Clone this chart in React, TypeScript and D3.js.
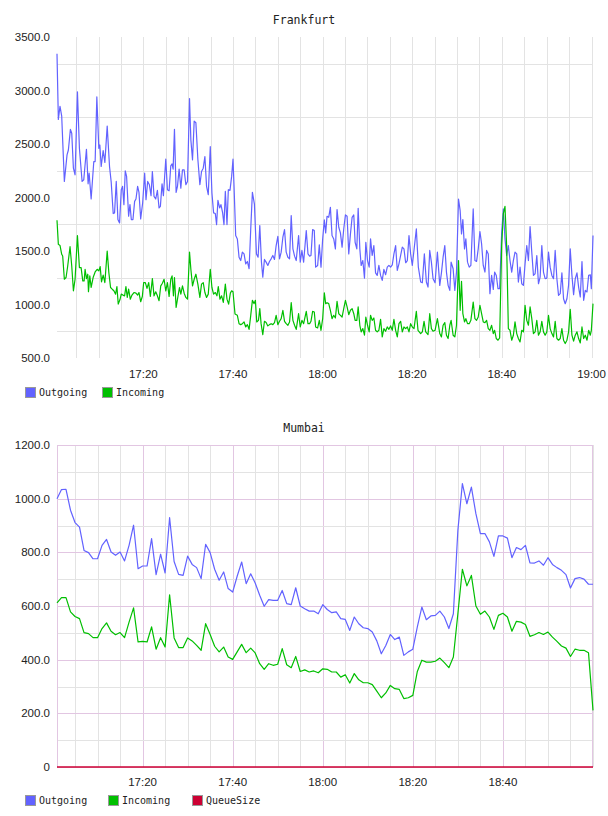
import { useEffect, useRef } from 'react';
import * as d3 from 'd3';

type Point = [number, number]; // [minutes after 17:00, value]

// Frankfurt: irregular ~20s samples
const frankfurtOutgoing: Point[] = [
  [0.73, 3343], [1.03, 2730], [1.4, 2853], [1.78, 2760], [2.37, 2150], [2.97, 2398], [3.27, 2444], [3.72, 2637],
  [4.02, 2600], [4.39, 2274], [4.76, 2212], [5.29, 2987], [5.73, 2460], [6.33, 2150], [6.7, 2166], [7.3, 2451],
  [7.67, 2128], [7.9, 2227], [8.35, 1986], [8.94, 2336], [9.24, 2336], [9.62, 2940], [10.06, 2460], [10.29, 2491],
  [10.59, 2290], [11.03, 2438], [11.41, 2327], [11.93, 2668], [12.45, 2290], [12.83, 2141], [13.27, 1850], [13.57, 1856],
  [13.95, 2150], [14.32, 1794], [14.69, 1763], [15.07, 2073], [15.36, 2104], [15.66, 1933], [15.96, 2249], [16.26, 2197],
  [16.71, 1825], [17.01, 1933], [17.31, 1794], [17.68, 1794], [18.05, 1964], [18.35, 1986], [18.72, 2104], [19.02, 2048],
  [19.4, 1800], [19.84, 1949], [20.29, 2227], [20.59, 1980], [20.96, 2150], [21.34, 2119], [21.71, 2017], [22.01, 2243],
  [22.38, 2011], [22.76, 1986], [23.13, 2067], [23.5, 1902], [23.8, 1918], [24.17, 2128], [24.47, 2017], [25.0, 2358],
  [25.37, 2073], [25.74, 2063], [26.12, 2296], [26.41, 2314], [26.64, 2265], [26.94, 2637], [27.31, 2048], [27.61, 2104],
  [27.98, 2265], [28.36, 2088], [28.73, 2259], [29.1, 2259], [29.48, 2119], [29.85, 2150], [30.3, 2925], [30.6, 2537],
  [30.97, 2352], [31.34, 2714], [31.72, 2699], [32.16, 2358], [32.61, 2119], [32.98, 2243], [33.36, 2274], [33.73, 2383],
  [34.1, 2104], [34.48, 2026], [34.93, 2475], [35.3, 2042], [35.67, 1856], [36.05, 1850], [36.34, 1747], [36.64, 1974],
  [37.02, 1902], [37.31, 1933], [37.69, 1856], [37.99, 1747], [38.29, 2057], [38.66, 1747], [38.96, 2073], [39.33, 2067],
  [39.7, 2197], [40.0, 2358], [40.23, 2110], [40.6, 1644], [40.97, 1613], [41.35, 1442], [41.72, 1411], [42.09, 1489],
  [42.47, 1473], [42.84, 1380], [43.21, 1402], [43.59, 1334], [43.96, 1706], [44.33, 2048], [44.78, 1939], [45.23, 1473],
  [45.6, 1442], [45.98, 1737], [46.35, 1396], [46.65, 1256], [47.02, 1421], [47.39, 1396], [47.77, 1365], [48.14, 1402],
  [48.51, 1427], [48.89, 1458], [49.26, 1421], [49.63, 1551], [50.01, 1638], [50.38, 1427], [50.75, 1489], [51.13, 1629],
  [51.5, 1700], [51.87, 1489], [52.25, 1442], [52.62, 1427], [52.99, 1831], [53.37, 1520], [53.74, 1452], [54.11, 1411],
  [54.64, 1644], [55.01, 1396], [55.38, 1505], [55.76, 1396], [56.35, 1691], [56.73, 1473], [57.1, 1452], [57.4, 1458],
  [57.77, 1700], [58.14, 1691], [58.44, 1349], [58.89, 1365], [59.26, 1557], [59.64, 1349], [60.01, 1613], [60.38, 1790],
  [60.68, 1669], [60.98, 1824], [61.36, 1815], [61.73, 1908], [62.1, 1644], [62.48, 1613], [62.85, 1520], [63.22, 1887],
  [63.6, 1722], [63.97, 1669], [64.34, 1536], [64.71, 1706], [65.09, 1837], [65.46, 1824], [65.83, 1473], [66.21, 1660],
  [66.58, 1815], [66.95, 1837], [67.25, 1582], [67.63, 1520], [67.93, 1899], [68.3, 1520], [68.6, 1365], [68.97, 1411],
  [69.34, 1247], [69.64, 1582], [70.02, 1411], [70.39, 1349], [70.69, 1613], [71.06, 1458], [71.43, 1551], [71.81, 1296],
  [72.18, 1272], [72.55, 1365], [72.93, 1272], [73.3, 1225], [73.67, 1328], [74.05, 1278], [74.42, 1349], [74.79, 1365],
  [75.17, 1349], [75.54, 1371], [75.91, 1473], [76.29, 1551], [76.66, 1318], [77.03, 1380], [77.41, 1458], [77.78, 1536],
  [78.15, 1520], [78.53, 1390], [78.9, 1411], [79.27, 1644], [79.64, 1473], [80.01, 1365], [80.91, 1706], [81.36, 1349],
  [81.88, 1210], [82.25, 1203], [82.7, 1473], [83.15, 1210], [83.52, 1163], [83.9, 1505], [84.27, 1396], [84.64, 1241],
  [85.09, 1203], [85.61, 1489], [86.14, 1179], [86.51, 1296], [86.88, 1442], [87.26, 1551], [87.63, 1303], [88.0, 1179],
  [88.38, 1132], [88.67, 1396], [89.12, 1334], [89.5, 1132], [89.87, 1303], [90.32, 1986], [90.69, 1877], [90.99, 1660],
  [91.29, 1793], [91.66, 1520], [91.96, 1613], [92.33, 1396], [92.71, 1349], [93.08, 1365], [93.6, 1893], [93.98, 1411],
  [94.35, 1402], [94.72, 1520], [95.1, 1682], [95.47, 1567], [95.84, 1365], [96.22, 1303], [96.59, 1505], [96.96, 1473],
  [97.33, 1101], [97.71, 1272], [98.08, 1141], [98.38, 1303], [98.75, 1272], [99.13, 1148], [99.5, 1148], [99.95, 1669],
  [100.32, 1893], [100.69, 1613], [101.07, 1458], [101.44, 1551], [101.81, 1411], [102.19, 1303], [102.56, 1411], [102.93, 1489],
  [103.31, 1473], [103.68, 1210], [104.05, 1349], [104.43, 1194], [104.8, 1179], [105.17, 1380], [105.55, 1551], [105.92, 1411],
  [106.29, 1728], [106.67, 1489], [107.04, 1272], [107.41, 1287], [107.79, 1458], [108.16, 1194], [108.53, 1256], [108.91, 1551],
  [109.28, 1303], [109.65, 1241], [110.03, 1247], [110.4, 1489], [110.77, 1349], [111.15, 1272], [111.52, 1241], [111.89, 1505],
  [112.27, 1241], [112.64, 1085], [113.01, 1101], [113.39, 1296], [113.76, 1054], [114.13, 1007], [114.51, 1054], [114.88, 1179],
  [115.25, 1520], [115.63, 1272], [116.0, 1092], [116.37, 1241], [116.75, 1296], [117.12, 1163], [117.49, 1070], [117.87, 1402],
  [118.24, 1039], [118.61, 1132], [118.99, 1117], [119.36, 1272], [119.73, 1278], [119.96, 1148], [120.33, 1644],
];

const frankfurtIncoming: Point[] = [
  [0.73, 1788], [1.03, 1562], [1.4, 1552], [1.78, 1469], [2.0, 1453], [2.37, 1236], [2.75, 1252], [3.12, 1360],
  [3.64, 1540], [4.02, 1360], [4.39, 1128], [4.76, 1236], [5.29, 1645], [5.73, 1345], [6.11, 1345], [6.48, 1221],
  [6.78, 1221], [7.0, 1329], [7.3, 1242], [7.6, 1283], [7.75, 1119], [8.05, 1267], [8.35, 1159], [8.79, 1252],
  [9.24, 1304], [9.69, 1329], [10.06, 1314], [10.36, 1354], [10.66, 1212], [11.03, 1274], [11.41, 1205], [11.93, 1500],
  [12.3, 1298], [12.68, 1159], [13.05, 1143], [13.42, 1128], [13.8, 1097], [14.1, 1168], [14.39, 1004], [14.77, 1044],
  [15.07, 1097], [15.44, 1088], [15.81, 1081], [16.11, 1168], [16.41, 1066], [16.71, 1143], [17.08, 1050], [17.46, 1088],
  [17.9, 1112], [18.35, 1106], [18.72, 1088], [19.02, 1112], [19.4, 1026], [19.77, 1075], [20.07, 1205], [20.44, 1205],
  [20.81, 1150], [21.19, 1205], [21.56, 1075], [22.01, 1242], [22.38, 1081], [22.76, 1119], [23.13, 1081], [23.5, 1035],
  [23.88, 1174], [24.25, 1199], [24.62, 1236], [25.0, 1128], [25.37, 1205], [25.74, 1075], [26.12, 1236], [26.41, 1267],
  [26.71, 1081], [26.94, 1252], [27.31, 973], [27.68, 1066], [28.06, 1159], [28.36, 1097], [28.73, 1174], [29.1, 1106],
  [29.48, 1066], [29.85, 1050], [30.3, 1490], [30.6, 1329], [30.97, 1174], [31.34, 1236], [31.72, 1283], [32.16, 1190],
  [32.61, 1066], [32.98, 1190], [33.36, 1205], [33.73, 1112], [34.1, 1066], [34.48, 1097], [34.93, 1329], [35.3, 1159],
  [35.67, 1097], [36.05, 1112], [36.42, 1081], [36.72, 1168], [37.09, 1050], [37.46, 1081], [37.84, 1019], [38.29, 1190],
  [38.66, 1050], [39.03, 1004], [39.41, 1106], [39.7, 1128], [40.0, 1119], [40.45, 911], [40.97, 899], [41.35, 821],
  [41.72, 812], [42.09, 821], [42.47, 837], [42.84, 790], [43.21, 812], [43.59, 768], [43.96, 899], [44.33, 1039],
  [44.71, 1008], [45.0, 1039], [45.3, 837], [45.68, 852], [45.98, 961], [46.27, 821], [46.65, 719], [47.02, 843],
  [47.39, 831], [47.77, 800], [48.14, 812], [48.51, 821], [48.89, 812], [49.26, 831], [49.63, 899], [50.01, 812],
  [50.38, 843], [50.75, 868], [51.13, 946], [51.5, 843], [51.87, 821], [52.25, 806], [52.62, 837], [52.99, 1017],
  [53.37, 852], [53.74, 806], [54.11, 768], [54.64, 914], [55.01, 790], [55.38, 852], [55.76, 821], [56.35, 936],
  [56.73, 821], [57.1, 821], [57.4, 843], [57.77, 936], [58.14, 930], [58.44, 790], [58.89, 781], [59.26, 852],
  [59.64, 759], [60.01, 868], [60.38, 1110], [60.68, 1008], [60.98, 1017], [61.36, 1008], [61.73, 946], [62.1, 868],
  [62.48, 899], [62.85, 874], [63.22, 1029], [63.6, 914], [63.97, 899], [64.34, 883], [64.71, 961], [65.09, 1039],
  [65.46, 977], [65.83, 905], [66.21, 946], [66.58, 961], [66.95, 914], [67.25, 852], [67.63, 852], [67.93, 977],
  [68.3, 806], [68.6, 744], [68.97, 775], [69.34, 713], [69.64, 883], [70.02, 806], [70.39, 744], [70.69, 899],
  [71.06, 852], [71.43, 874], [71.81, 759], [72.18, 744], [72.55, 759], [72.93, 862], [73.3, 697], [73.67, 775],
  [74.05, 750], [74.42, 790], [74.79, 768], [75.17, 800], [75.54, 759], [75.91, 862], [76.29, 759], [76.66, 697],
  [77.03, 821], [77.41, 843], [77.78, 744], [78.15, 790], [78.53, 775], [78.9, 790], [79.27, 744], [79.64, 821],
  [80.01, 790], [80.39, 775], [80.91, 936], [81.28, 759], [81.88, 728], [82.25, 744], [82.63, 843], [83.0, 744],
  [83.52, 719], [83.9, 914], [84.27, 775], [84.64, 750], [85.09, 759], [85.61, 868], [86.14, 728], [86.51, 697],
  [86.88, 806], [87.26, 831], [87.63, 713], [88.0, 682], [88.38, 806], [88.67, 852], [89.12, 713], [89.5, 697],
  [89.87, 806], [90.32, 1411], [90.69, 946], [90.99, 1216], [91.29, 914], [91.66, 837], [91.96, 868], [92.33, 821],
  [92.71, 821], [93.08, 852], [93.6, 1023], [93.98, 868], [94.35, 852], [94.72, 883], [95.1, 992], [95.47, 914],
  [95.84, 837], [96.22, 831], [96.59, 852], [96.96, 775], [97.33, 759], [97.71, 806], [98.08, 728], [98.38, 759],
  [98.75, 682], [99.13, 666], [99.5, 688], [99.95, 1551], [100.32, 1846], [100.69, 1918], [101.07, 1536], [101.44, 775],
  [101.81, 759], [102.19, 666], [102.56, 713], [102.93, 837], [103.31, 728], [103.68, 682], [104.05, 650], [104.43, 759],
  [104.8, 744], [105.17, 992], [105.55, 852], [105.92, 806], [106.29, 977], [106.67, 868], [107.04, 728], [107.41, 744],
  [107.79, 852], [108.16, 713], [108.53, 744], [108.91, 843], [109.28, 744], [109.65, 713], [110.03, 744], [110.4, 899],
  [110.77, 775], [111.15, 728], [111.52, 697], [111.89, 843], [112.27, 682], [112.64, 666], [113.01, 682], [113.39, 775],
  [113.76, 666], [114.13, 635], [114.51, 666], [114.88, 744], [115.25, 955], [115.63, 713], [116.0, 657], [116.37, 713],
  [116.75, 744], [117.12, 682], [117.49, 641], [117.87, 790], [118.24, 682], [118.61, 713], [118.99, 666], [119.36, 759],
  [119.73, 713], [119.96, 759], [120.33, 1008],
];

// Mumbai: one sample per minute, 17:01 .. 19:00
const mumbaiFirstMinute = 1;
const mumbaiOutgoing = [
  1000, 1034, 1035, 957, 911, 894, 807, 799, 776, 776,
  826, 848, 801, 789, 801, 768, 826, 901, 739, 749,
  749, 851, 717, 793, 723, 929, 766, 718, 714, 786,
  755, 743, 702, 830, 799, 737, 696, 727, 665, 652,
  711, 764, 683, 720, 686, 640, 599, 624, 621, 621,
  658, 609, 605, 668, 600, 590, 581, 581, 571, 605,
  587, 575, 578, 553, 550, 509, 559, 534, 519, 516,
  503, 470, 422, 453, 494, 475, 484, 416, 429, 439,
  522, 596, 549, 563, 565, 581, 559, 516, 571, 882,
  1056, 981, 1043, 944, 870, 870, 839, 785, 861, 861,
  853, 780, 818, 810, 826, 761, 760, 768, 752, 780,
  755, 743, 733, 717, 667, 702, 706, 700, 681, 681,
];
const mumbaiIncoming = [
  612, 631, 631, 578, 561, 553, 501, 497, 482, 482,
  516, 537, 506, 493, 501, 482, 540, 593, 466, 468,
  466, 522, 439, 482, 447, 642, 481, 445, 445, 481,
  470, 453, 435, 534, 494, 450, 429, 447, 410, 401,
  429, 457, 426, 443, 425, 385, 364, 385, 379, 383,
  441, 381, 370, 412, 356, 362, 354, 358, 351, 366,
  364, 354, 354, 335, 344, 313, 348, 325, 314, 314,
  307, 283, 258, 276, 304, 292, 289, 255, 258, 267,
  356, 398, 391, 391, 394, 406, 389, 370, 410, 571,
  737, 675, 714, 600, 569, 581, 559, 513, 565, 573,
  559, 506, 543, 540, 531, 487, 493, 501, 494, 503,
  484, 468, 451, 443, 412, 439, 435, 435, 426, 211,
];
const mumbaiQueue = [
  0, 0, 0, 0, 0, 0, 0, 0, 0, 0, 0, 0, 0, 0, 0, 0, 0, 0, 0, 0,
  0, 0, 0, 0, 0, 0, 0, 0, 0, 0, 0, 0, 0, 0, 0, 0, 0, 0, 0, 0,
  0, 0, 0, 0, 0, 0, 0, 0, 0, 0, 0, 0, 0, 0, 0, 0, 0, 0, 0, 0,
  0, 0, 0, 0, 0, 0, 0, 0, 0, 0, 0, 0, 0, 0, 0, 0, 0, 0, 0, 0,
  0, 0, 0, 0, 0, 0, 0, 0, 0, 0, 0, 0, 0, 0, 0, 0, 0, 0, 0, 0,
  0, 0, 0, 0, 0, 0, 0, 0, 0, 0, 0, 0, 0, 0, 0, 0, 0, 0, 0, 0,
];

const frankfurtYTicks = [500, 1000, 1500, 2000, 2500, 3000, 3500];
const frankfurtYGrid = [750, 1250, 1750, 2250, 2750, 3250];
const mumbaiYTicks = [0, 200, 400, 600, 800, 1000, 1200];
const mumbaiYMinor = [100, 300, 500, 700, 900, 1100];

const timeGridStep = 5;
const timeLabelStep = 20;

const COLORS = { Outgoing: '#6262ff', Incoming: '#00bf00', QueueSize: '#cc0033' };

const TICK_FONT = '"Liberation Sans", Arial, sans-serif';
const MONO_FONT = '"DejaVu Sans Mono", monospace';

interface SeriesDef {
  name: keyof typeof COLORS;
  points: Point[];
}

interface ChartDef {
  title: string;
  titleY: number;
  top: number;
  bottom: number;
  left: number;
  right: number;
  yDomain: [number, number];
  yTicks: number[];
  yMinor: number[];
  yFormat: (v: number) => string;
  framed: boolean;
  xLabelY: number;
  legendY: number;
  legendX: number[];
  series: SeriesDef[];
}

const fmtTime = (m: number) => {
  const h = 17 + Math.floor(m / 60);
  const mm = Math.round(m % 60);
  return `${h}:${String(mm).padStart(2, '0')}`;
};

function drawChart(root: d3.Selection<SVGSVGElement, unknown, null, undefined>, c: ChartDef) {
  const all = c.series.flatMap((s) => s.points);
  const x = d3.scaleLinear().domain(d3.extent(all, (d) => d[0]) as [number, number]).range([c.left, c.right]);
  const y = d3.scaleLinear().domain(c.yDomain).range([c.bottom, c.top]);
  const [x0, x1] = x.domain();

  const g = root.append('g');
  const minor = '#e3e3e3';
  const major = c.framed ? '#e2c6e2' : minor;

  // time gridlines every 5 minutes, labels every 20
  const gridTimes = d3.range(Math.ceil(x0 / timeGridStep) * timeGridStep, x1 + 0.01, timeGridStep);
  g.selectAll('line.vgrid')
    .data(gridTimes)
    .join('line')
    .attr('x1', (d) => Math.round(x(d)) + 0.5)
    .attr('x2', (d) => Math.round(x(d)) + 0.5)
    .attr('y1', c.top)
    .attr('y2', c.bottom)
    .attr('stroke', (d) => (d % timeLabelStep === 0 && x(d) < c.right - 3 ? major : minor))
    .attr('stroke-width', 1);

  const hLines = [...c.yMinor.map((v) => ({ v, col: minor }))];
  if (c.framed) c.yTicks.forEach((v) => hLines.push({ v, col: major }));
  g.selectAll('line.hgrid')
    .data(hLines)
    .join('line')
    .attr('x1', c.left)
    .attr('x2', c.right)
    .attr('y1', (d) => Math.round(y(d.v)) + 0.5)
    .attr('y2', (d) => Math.round(y(d.v)) + 0.5)
    .attr('stroke', (d) => d.col);

  if (c.framed) {
    g.append('rect')
      .attr('x', c.left + 0.5)
      .attr('y', c.top + 0.5)
      .attr('width', c.right - c.left - 1)
      .attr('height', c.bottom - c.top)
      .attr('fill', 'none')
      .attr('stroke', major);
  }

  // y labels
  g.selectAll('text.ylab')
    .data(c.yTicks)
    .join('text')
    .attr('x', c.left - 7)
    .attr('y', (d) => y(d) + 4)
    .attr('text-anchor', 'end')
    .attr('font-family', TICK_FONT)
    .attr('font-size', 11.5)
    .attr('fill', '#222')
    .text(c.yFormat);

  // x labels
  const labelTimes = gridTimes.filter((d) => d % timeLabelStep === 0 && x(d) < c.right - 1);
  g.selectAll('text.xlab')
    .data(labelTimes)
    .join('text')
    .attr('x', (d) => x(d))
    .attr('y', c.xLabelY)
    .attr('text-anchor', 'middle')
    .attr('font-family', TICK_FONT)
    .attr('font-size', 11.5)
    .attr('fill', '#222')
    .text(fmtTime);

  // title, centred on the page
  g.append('text')
    .attr('x', 304)
    .attr('y', c.titleY)
    .attr('text-anchor', 'middle')
    .attr('font-family', MONO_FONT)
    .attr('font-size', 11.5)
    .attr('fill', '#222')
    .text(c.title);

  // series
  const line = d3
    .line<Point>()
    .x((d) => x(d[0]))
    .y((d) => y(d[1]));
  c.series.forEach((s) => {
    g.append('path')
      .datum(s.points)
      .attr('d', line)
      .attr('fill', 'none')
      .attr('stroke', COLORS[s.name])
      .attr('stroke-width', s.name === 'QueueSize' ? 1.4 : 1.2)
      .attr('stroke-linejoin', 'round');
  });

  // legend
  c.series.forEach((s, i) => {
    const lx = c.legendX[i];
    g.append('rect')
      .attr('x', lx + 0.5)
      .attr('y', c.legendY + 0.5)
      .attr('width', 10)
      .attr('height', 10)
      .attr('fill', COLORS[s.name])
      .attr('stroke', '#999');
    g.append('text')
      .attr('x', lx + 14)
      .attr('y', c.legendY + 9)
      .attr('font-family', MONO_FONT)
      .attr('font-size', 10)
      .attr('fill', '#222')
      .text(s.name);
  });
}

const toSeries = (vals: number[]): Point[] => vals.map((v, i) => [mumbaiFirstMinute + i, v]);

export default function App() {
  const ref = useRef<SVGSVGElement>(null);

  useEffect(() => {
    const svg = d3.select(ref.current!);
    svg.selectAll('*').remove();

    drawChart(svg, {
      title: 'Frankfurt',
      titleY: 24,
      top: 37,
      bottom: 358,
      left: 57,
      right: 593,
      yDomain: [500, 3500],
      yTicks: frankfurtYTicks,
      yMinor: frankfurtYGrid,
      yFormat: (v) => v.toFixed(1),
      framed: false,
      xLabelY: 378,
      legendY: 387,
      legendX: [25, 102],
      series: [
        { name: 'Outgoing', points: frankfurtOutgoing },
        { name: 'Incoming', points: frankfurtIncoming },
      ],
    });

    drawChart(svg, {
      title: 'Mumbai',
      titleY: 432,
      top: 445,
      bottom: 767,
      left: 57,
      right: 593,
      yDomain: [0, 1200],
      yTicks: mumbaiYTicks,
      yMinor: mumbaiYMinor,
      yFormat: (v) => (v === 0 ? '0' : v.toFixed(1)),
      framed: true,
      xLabelY: 786,
      legendY: 795,
      legendX: [25, 108, 192],
      series: [
        { name: 'Outgoing', points: toSeries(mumbaiOutgoing) },
        { name: 'Incoming', points: toSeries(mumbaiIncoming) },
        { name: 'QueueSize', points: toSeries(mumbaiQueue) },
      ],
    });
  }, []);

  return (
    <svg
      ref={ref}
      width={608}
      height={816}
      style={{ position: 'absolute', left: 0, top: 0, background: '#fff' }}
    />
  );
}
